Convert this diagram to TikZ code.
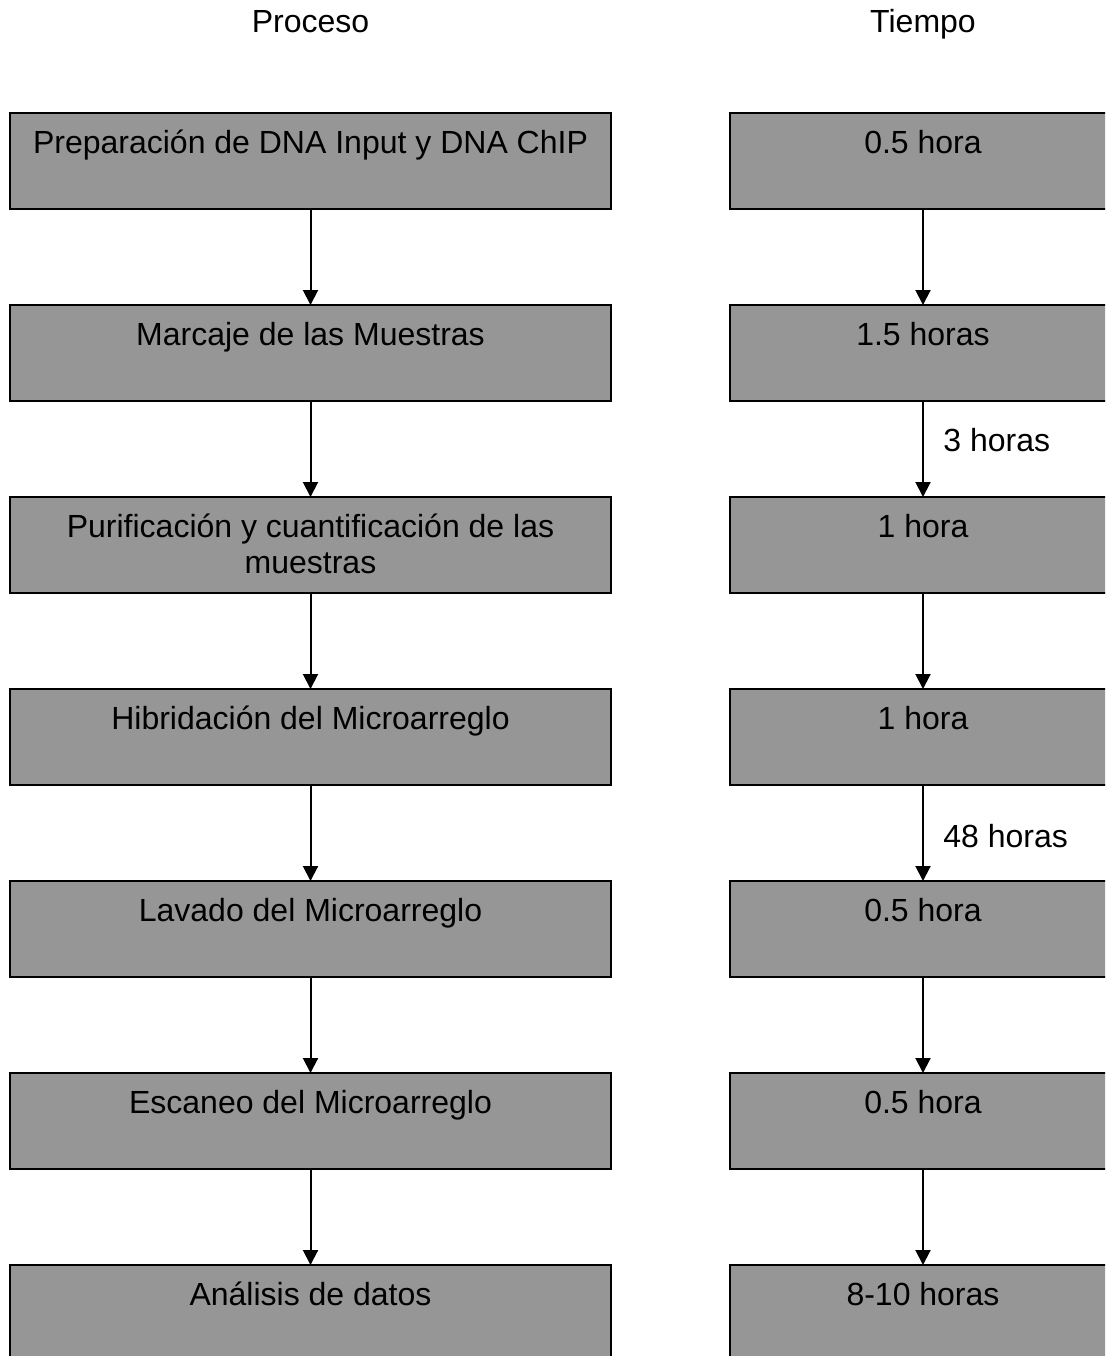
\documentclass[tikz,border=0pt]{standalone}
\usepackage{fontspec}
\setmainfont{Liberation Sans}
\usepackage{xcolor}
\usepackage{tikz}
\usetikzlibrary{arrows.meta,positioning}
\definecolor{gris}{RGB}{150,150,150}
\tikzset{
  paso/.style={rectangle, draw=black, line width=1pt, fill=gris, minimum width=300.5pt, minimum height=48pt, inner sep=0pt, outer sep=0pt},
  tiempo/.style={paso, minimum width=193pt},
  texto/.style={anchor=base, align=center, inner sep=0pt, font=\fontsize{16}{18}\selectfont},
  flecha/.style={-{Triangle[length=7.5pt,width=7.5pt]}, line width=1pt}
}
\begin{document}
\begin{tikzpicture}[x=0.5pt,y=-0.5pt]
  \useasboundingbox (0,0) rectangle (1105,1356);
  \clip (0,0) rectangle (1105,1356);
  % titulos
  \node[texto] (hproc) at (310.5,32.5) {Proceso};
  \node[texto] (htiem) at (923,32.5) {Tiempo};
  % columna de proceso
  \node[paso] (p1) at (310.5,161) {};
  \node[paso, below=48pt of p1] (p2) {};
  \node[paso, below=48pt of p2] (p3) {};
  \node[paso, below=48pt of p3] (p4) {};
  \node[paso, below=48pt of p4] (p5) {};
  \node[paso, below=48pt of p5] (p6) {};
  \node[paso, below=48pt of p6] (p7) {};
  \node[texto] (tp1) at ([yshift=-20pt]p1.north) {Preparación de DNA Input y DNA ChIP};
  \node[texto] (tp2) at ([yshift=-20pt]p2.north) {Marcaje de las Muestras};
  % base = linea de abajo
  \node[texto] (tp3) at ([yshift=-38pt]p3.north) {Purificación y cuantificación de las\\muestras};
  \node[texto] (tp4) at ([yshift=-20pt]p4.north) {Hibridación del Microarreglo};
  \node[texto] (tp5) at ([yshift=-20pt]p5.north) {Lavado del Microarreglo};
  \node[texto] (tp6) at ([yshift=-20pt]p6.north) {Escaneo del Microarreglo};
  \node[texto] (tp7) at ([yshift=-20pt]p7.north) {Análisis de datos};
  % columna de tiempo
  \node[tiempo] (t1) at (923,161) {};
  \node[tiempo, below=48pt of t1] (t2) {};
  \node[tiempo, below=48pt of t2] (t3) {};
  \node[tiempo, below=48pt of t3] (t4) {};
  \node[tiempo, below=48pt of t4] (t5) {};
  \node[tiempo, below=48pt of t5] (t6) {};
  \node[tiempo, below=48pt of t6] (t7) {};
  \node[texto] (tt1) at ([yshift=-20pt]t1.north) {0.5 hora};
  \node[texto] (tt2) at ([yshift=-20pt]t2.north) {1.5 horas};
  \node[texto] (tt3) at ([yshift=-20pt]t3.north) {1 hora};
  \node[texto] (tt4) at ([yshift=-20pt]t4.north) {1 hora};
  \node[texto] (tt5) at ([yshift=-20pt]t5.north) {0.5 hora};
  \node[texto] (tt6) at ([yshift=-20pt]t6.north) {0.5 hora};
  \node[texto] (tt7) at ([yshift=-20pt]t7.north) {8-10 horas};
  % flechas
  \foreach \a/\b in {1/2,2/3,3/4,4/5,5/6,6/7}{
    \draw[flecha] (p\a) -- (p\b);
    \draw[flecha] (t\a) -- (t\b);
  }
  \node[texto, anchor=base west] (d23) at (943,451) {3 horas};
  \node[texto, anchor=base west] (d45) at (943,847) {48 horas};
\end{tikzpicture}
\end{document}
